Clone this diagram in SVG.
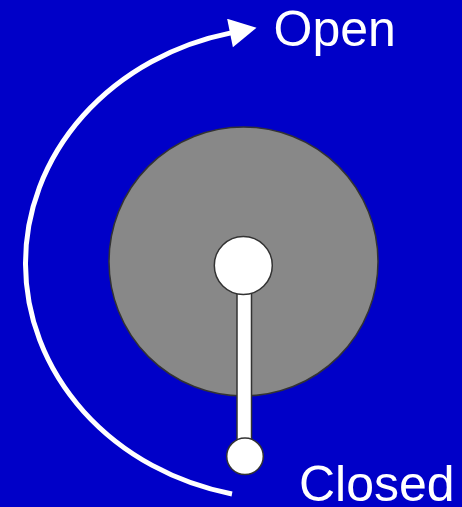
<svg xmlns="http://www.w3.org/2000/svg" width="462" height="507" viewBox="0 0 462 507">
<style>
.lbl{font-family:"Liberation Sans",Arial,sans-serif;font-size:50px;fill:#fff}
.part{fill:#fff;stroke:#333;stroke-width:1.5}
</style>
<defs>
<marker id="ah" markerUnits="userSpaceOnUse" markerWidth="30" markerHeight="30" viewBox="0 0 28 30" refX="1" refY="14.6" orient="auto">
<path d="M0,0 L27,14.6 L0,29.2 z" fill="#fff"/>
</marker>
</defs>
<rect width="462" height="507" fill="#0000C8"/>
<g id="disc"><circle cx="243.5" cy="261.5" r="134.5" fill="#888" stroke="#333" stroke-width="1.5"/></g>
<g id="rod"><rect class="part" x="237" y="288" width="14.5" height="160" stroke-width="2"/></g>
<g id="hub"><circle class="part" cx="243.3" cy="265.5" r="29"/></g>
<g id="knob"><circle class="part" cx="245" cy="456.3" r="18.3"/></g>
<g id="connectors">
<path d="M232,493.97 A262.5,236.1 0 0 1 231,32.83" fill="none" stroke="#fff" stroke-width="5" marker-end="url(#ah)"/>
</g>
<g id="label-open"><text class="lbl" x="273.5" y="46">Open</text></g>
<g id="label-closed"><text class="lbl" x="299" y="501">Closed</text></g>
</svg>
